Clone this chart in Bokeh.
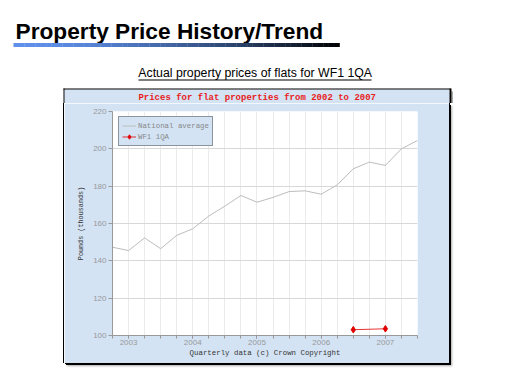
from bokeh.plotting import figure
from bokeh.models import Range1d, FixedTicker, Spacer
from bokeh.layouts import column, row
from bokeh.core.properties import value
from bokeh.embed import file_html
from bokeh.resources import INLINE

# ---------------- data ----------------
quarters = [2002.75, 2003.0, 2003.25, 2003.5, 2003.75, 2004.0, 2004.25, 2004.5,
            2004.75, 2005.0, 2005.25, 2005.5, 2005.75, 2006.0, 2006.25, 2006.5,
            2006.75, 2007.0, 2007.25, 2007.5]
national_average = [147.3, 145.5, 152.3, 146.5, 153.6, 157.2, 164.0, 169.3,
                    175.0, 171.4, 174.0, 177.1, 177.5, 175.7, 180.7, 189.3,
                    192.9, 191.1, 200.0, 204.5]
wf1_quarters = [2006.5, 2007.0]
wf1_prices = [103.1, 103.6]
year_ticks = [2003, 2004, 2005, 2006, 2007]
price_ticks = [100, 120, 140, 160, 180, 200, 220]

page_title = "Property Price History/Trend"
sub_title = "Actual property prices of flats for WF1 1QA"
chart_title = "Prices for flat properties from 2002 to 2007"
x_label = "Quarterly data (c) Crown Copyright"
y_label = "Pounds (thousands)"

X0, X1 = 2002.75, 2007.5
Y0, Y1 = 100, 220

CHART_BG = "#d3e3f4"

# ---------------- header (page title, subtitle, top of chart panel) ----------------
HW, HH = 515, 103
head = figure(width=HW, height=HH, x_range=Range1d(0, HW), y_range=Range1d(HH, 0),
              min_border=0, x_axis_type=None, y_axis_type=None,
              toolbar_location=None, output_backend="svg",
              outline_line_color=None, background_fill_color="white",
              border_fill_color="white", title=None)

head.text(x=[15], y=[30.8], text=[page_title], text_font=value("Liberation Sans"),
          text_font_style="bold", text_font_size="22.7px", text_color="black",
          text_align="left", text_baseline="alphabetic")

# gradient underline of the page title
N = 60
gx0, gx1 = 13, 339
start = (96, 146, 236)
lefts, rights, cols = [], [], []
for i in range(N):
    t = (i + 0.5) / N
    f = max(0.0, 1 - t ** 1.6)
    cols.append("#%02x%02x%02x" % tuple(int(c * f) for c in start))
    lefts.append(gx0 + (gx1 - gx0) * i / N)
    rights.append(gx0 + (gx1 - gx0) * (i + 1) / N + 0.3)
head.quad(left=lefts, right=rights, top=42.5, bottom=46.5, color=cols, line_color=None)

head.text(x=[254.7], y=[72.6], text=[sub_title], text_font=value("Liberation Sans"),
          text_font_size="12.3px", text_color="black",
          text_align="center", text_baseline="alphabetic")
head.quad(left=[138], right=[371], top=[79], bottom=[80], color="black", line_color=None)

# upper strip of the chart panel (blue fill, black frame, shadow)
head.quad(left=[451], right=[452.5], top=[91], bottom=[HH], color="#aaaaaa", line_color=None)
head.quad(left=[64], right=[449], top=[89], bottom=[HH], color=CHART_BG, line_color=None)
head.quad(left=[63, 63, 449], right=[450, 64, 451], top=[88, 88, 88], bottom=[89, HH, HH],
          color="black", line_color=None)

head.text(x=[256.7], y=[97.7], text=[chart_title], text_font=value("Liberation Mono"),
          text_font_style="bold", text_font_size="9px", text_color="#e81c1c",
          text_align="center", text_baseline="alphabetic")

# ---------------- chart ----------------
p = figure(frame_width=305, frame_height=224,
           min_border_left=48, min_border_right=32,
           min_border_top=8, min_border_bottom=28,
           x_range=Range1d(X0, X1), y_range=Range1d(Y0, Y1),
           output_backend="svg", toolbar_location=None,
           border_fill_color=CHART_BG, background_fill_color="white",
           outline_line_color=None, title=None)
p.styles = {"box-shadow": ("-1px 0 0 0 #000000, 1px 0 0 0 #000000, 1px 1px 0 0 #000000, "
                           "2px 2px 0 0 #000000, 3px 3px 2px 0 #aaaaaa")}

# axes
p.xaxis.ticker = FixedTicker(ticks=year_ticks, minor_ticks=quarters)
p.yaxis.ticker = FixedTicker(ticks=price_ticks)
for ax in (p.xaxis[0], p.yaxis[0]):
    ax.axis_line_color = "#999999"
    ax.major_tick_line_color = "#999999"
    ax.minor_tick_line_color = "#999999"
    ax.major_tick_in = 0
    ax.minor_tick_in = 0
    ax.major_label_text_font = "Liberation Sans"
    ax.major_label_text_font_size = "8px"
    ax.major_label_text_color = "#999999"
    ax.axis_label_text_font = "Liberation Mono"
    ax.axis_label_text_font_style = "normal"
    ax.axis_label_text_color = "#333333"
p.xaxis.major_tick_out = 3
p.xaxis.minor_tick_out = 3
p.xaxis.major_label_standoff = 1
p.xaxis.axis_label = x_label
p.xaxis.axis_label_text_font_size = "7.4px"
p.xaxis.axis_label_standoff = 1
p.yaxis.major_tick_out = 4
p.yaxis.minor_tick_out = 0
p.yaxis.major_label_standoff = 2
p.yaxis.axis_label = y_label
p.yaxis.axis_label_text_font_size = "6.8px"
p.yaxis.axis_label_standoff = 5

p.xgrid.grid_line_color = "#ebebeb"
p.xgrid.minor_grid_line_color = "#ebebeb"
p.ygrid.grid_line_color = "#d8d8d8"

# series
p.line(quarters, national_average, line_color="#bcbcbc", line_width=1,
       legend_label="National average")
p.line(wf1_quarters, wf1_prices, line_color="#e00000", line_width=0.8,
       legend_label="WF1 1QA")
p.scatter(wf1_quarters, wf1_prices, marker="diamond", size=6.5, color="#e00000",
          legend_label="WF1 1QA")

leg = p.legend[0]
leg.location = (6, 189)
leg.background_fill_color = CHART_BG
leg.background_fill_alpha = 1
leg.border_line_color = "#444444"
leg.border_line_width = 1
leg.label_text_font = "Liberation Mono"
leg.label_text_font_size = "7.4px"
leg.label_text_color = "#888888"
leg.glyph_width = 14
leg.glyph_height = 11
leg.label_height = 11
leg.label_standoff = 2
leg.padding = 3
leg.spacing = 0
leg.margin = 0

layout = column(head, row(Spacer(width=64, height=260), p))

open("out.html", "w").write(file_html(layout, INLINE))
